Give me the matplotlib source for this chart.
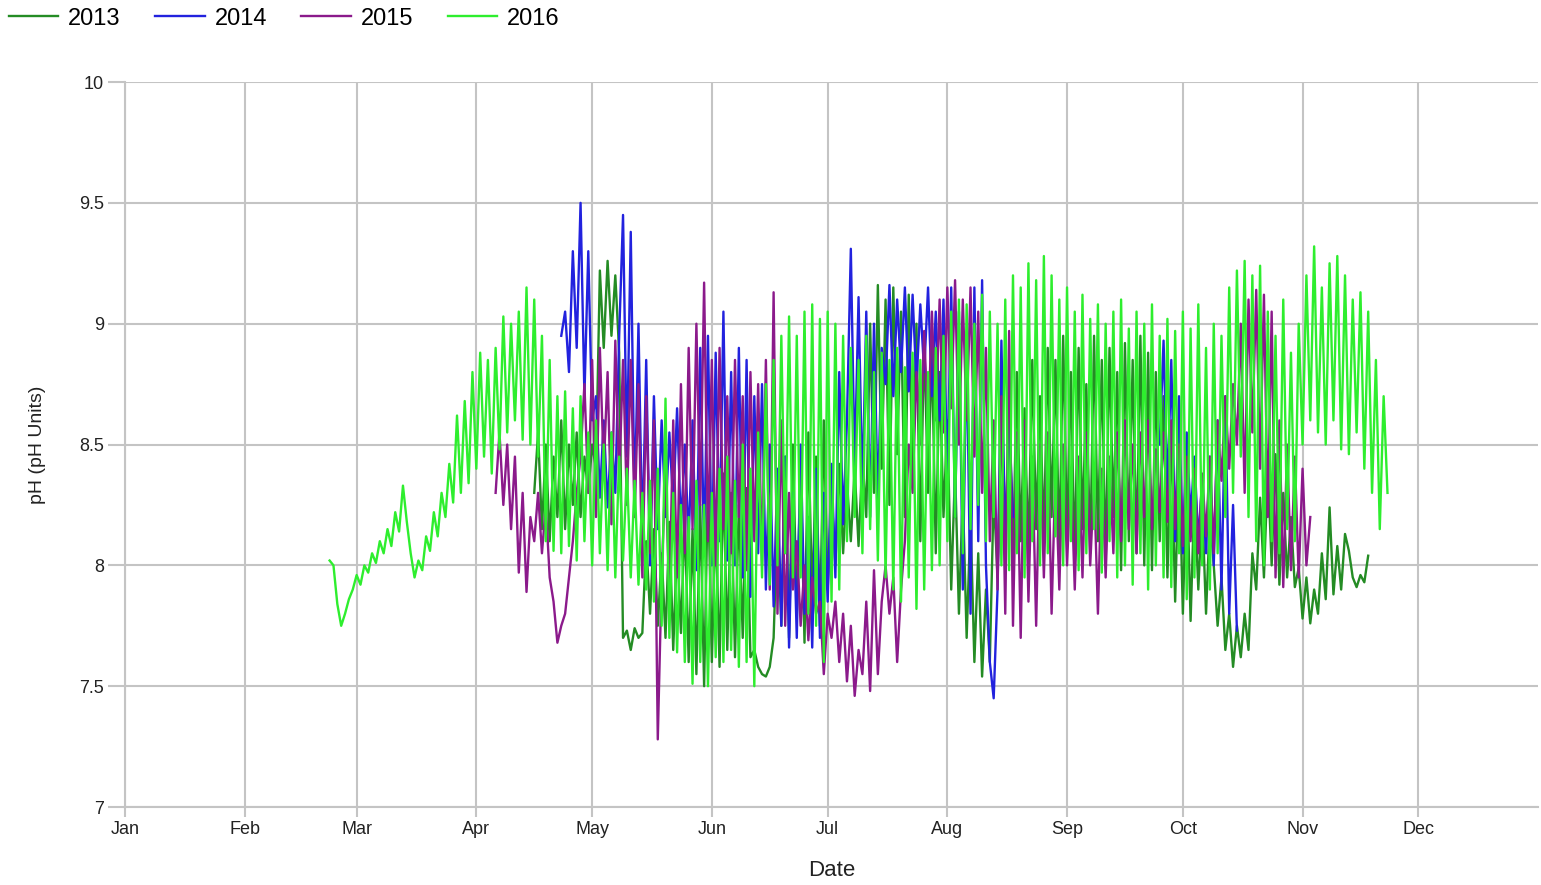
import numpy as np
import matplotlib
matplotlib.use('Agg')
import matplotlib.pyplot as plt

plt.rcParams['font.family'] = ['Liberation Sans', 'DejaVu Sans']

# daily pH readings, one value per day (alternating day/night swing),
# x is day-of-year counted from Jan 1 on a leap-year calendar
start_2013 = 106
ph_2013 = [
    8.30, 8.55, 8.15, 8.50, 8.10, 8.45, 8.20, 8.60, 8.15, 8.50, 8.25, 8.55, 8.20, 8.45, 8.30, 8.50, 8.40,
    9.22, 8.90, 9.26, 8.95, 9.20, 8.88,
    7.70, 7.73, 7.65, 7.74, 7.70, 7.72,
    8.10, 7.80, 8.15, 7.75, 8.05, 7.70, 8.18, 7.65, 8.10, 7.72, 8.20, 7.60, 8.15, 7.55,
    8.25, 7.50, 8.35, 7.60, 8.20, 7.58, 8.38, 7.65, 8.30, 7.62, 8.25, 7.70, 8.32, 7.62,
    7.65, 7.58, 7.55, 7.54, 7.58, 7.70,
    8.20, 7.75, 8.45, 7.70, 8.50, 7.80, 8.40, 7.68, 8.55, 7.85, 8.45, 7.75, 8.60, 7.90,
    8.30, 8.00, 8.42, 8.05, 8.35, 8.10, 8.40, 8.08, 8.45, 8.20, 9.00, 8.30, 9.16,
    8.40, 9.10, 8.25, 9.15, 8.46, 9.05, 8.20, 9.12, 8.35, 9.00, 8.10, 8.95, 8.30, 8.90, 8.05, 8.80, 8.20,
    8.60, 7.90, 8.40, 7.80, 8.30, 7.70, 8.20, 7.60, 8.05, 7.54, 7.90, 7.60,
    8.30, 7.95, 8.60, 8.05, 8.70, 8.00, 8.80, 8.10, 8.65, 8.05, 8.85, 8.15, 8.70, 8.10, 8.90, 8.20,
    8.85, 8.05, 8.95, 8.10, 8.80, 8.00, 8.90, 8.15, 8.75, 8.05, 8.95, 8.10, 8.85, 8.00,
    8.90, 8.20, 8.80, 7.98, 8.92, 8.10, 8.85, 8.05, 8.95, 8.00, 8.88, 7.98, 8.80,
    8.10, 8.70, 7.95, 8.55, 7.85, 8.45, 7.80, 8.40, 7.77, 8.30, 7.90, 8.25, 7.80, 8.20,
    8.00, 7.75, 7.95, 7.65, 7.80, 7.58, 7.75, 7.62, 7.80, 7.65, 8.05, 7.90, 8.28,
    7.95, 8.40, 8.00, 8.46, 7.92, 8.30, 7.95, 8.20, 7.91,
    7.99, 7.78, 7.95, 7.76, 7.90, 7.80, 8.05, 7.86, 8.24, 7.88, 8.08, 7.90, 8.13, 8.06,
    7.95, 7.91, 7.96, 7.93, 8.04,
]

# 2014 logger has a gap from late August to late September
start_2014a = 113
ph_2014a = [
    8.95, 9.05, 8.80, 9.30, 8.90, 9.50,
    8.70, 9.30, 8.60, 8.70, 8.28, 8.60, 8.24, 8.55,
    8.30, 8.95, 9.45, 8.45, 9.38, 8.25, 9.00,
    8.10, 8.85, 8.00, 8.70, 8.15, 8.60, 8.20,
    8.55, 8.25, 8.65, 8.15, 8.50, 8.10, 8.60, 7.98,
    8.90, 8.05, 8.95, 8.00, 8.88, 8.10, 9.05, 8.02,
    8.80, 8.00, 8.90, 7.95, 8.85, 7.87, 8.70, 8.05, 8.75, 7.90,
    8.50, 7.83, 8.40, 7.75, 8.45, 7.66, 8.30, 7.70, 8.50, 7.80, 8.20, 7.66, 8.40, 7.70,
    8.30, 7.85, 8.42, 7.95, 8.80, 8.17, 8.60, 9.31,
    8.40, 9.11, 8.30, 9.05, 8.20, 9.00, 8.25, 8.90,
    8.75, 9.16, 8.70, 9.10, 8.80, 9.15, 8.72, 9.12, 8.75, 9.08, 8.80, 9.15, 8.70, 9.05, 8.60,
    9.10, 8.35, 9.15, 8.20, 9.05, 7.90, 8.95, 7.80, 9.15, 8.10, 9.18, 8.00, 7.60, 7.45, 7.90,
    8.93, 8.10, 8.60, 8.20,
]
start_2014b = 268
ph_2014b = [
    8.50, 8.93, 8.30, 8.85, 8.10, 8.70, 8.05, 8.55, 8.20, 8.45, 8.10,
    8.35, 8.05, 8.45, 8.00, 8.60, 7.90, 8.70, 7.80, 8.25, 7.73,
]

start_2015 = 96
ph_2015 = [
    8.30, 8.55, 8.25, 8.50, 8.15, 8.45, 7.97, 8.30, 7.89, 8.20, 8.10,
    8.30, 8.05, 8.25, 7.95, 7.85, 7.68, 7.75, 7.80, 7.95, 8.10, 8.30, 8.45,
    8.75, 8.30, 8.85, 8.20, 8.90, 8.40, 8.80, 8.17, 8.93, 8.35, 8.85, 8.25,
    8.85, 8.20, 8.75, 7.95, 8.70, 8.05, 8.60, 7.28,
    7.95, 8.40, 7.85, 8.60, 7.95, 8.75, 8.05, 8.90, 8.15, 9.00, 8.25, 9.17,
    8.10, 8.85, 8.00, 8.90, 8.15, 8.70, 8.05, 8.85, 8.20, 8.70, 7.98, 8.80, 8.10, 8.75,
    8.00, 8.85, 7.90, 9.13, 7.80, 8.60, 7.75, 8.30,
    7.90, 8.10, 7.75, 8.00, 7.69, 7.95, 7.80, 7.85, 7.55, 7.80,
    7.70, 7.85, 7.60, 7.80, 7.52, 7.75, 7.46, 7.65, 7.55, 7.85, 7.48, 7.98, 7.55,
    7.85, 8.00, 7.80, 7.95, 7.60, 7.90, 8.10, 8.50, 8.30, 8.80,
    8.50, 8.97, 8.55, 9.05, 8.60, 9.10, 8.55, 9.15, 8.65, 9.18, 8.50, 9.10, 8.60, 9.15, 8.45,
    9.05, 8.30, 8.90, 8.10,
    8.60, 7.90, 8.70, 7.80, 8.97, 7.75, 8.55, 7.70, 8.60, 7.85, 8.45, 7.75, 8.50, 7.95,
    8.55, 7.80, 8.40, 7.90,
    8.50, 8.00, 8.40, 7.90, 8.45, 7.95, 8.55, 8.00, 8.35, 7.80, 8.40, 7.95, 8.45, 8.05, 8.55,
    8.10, 8.60, 8.15, 8.50, 8.05, 8.55, 8.20, 8.60, 8.15, 8.48, 8.22, 8.55, 8.18, 8.60, 8.15, 8.50,
    8.08, 8.45, 8.10, 8.40, 8.05, 8.38, 8.12, 8.45, 8.05, 8.60, 8.35, 8.70,
    8.40, 8.75, 8.50, 9.00, 8.30, 9.10, 8.55, 9.14, 8.40, 9.12, 8.20, 9.05, 7.95, 8.60, 7.91,
    8.50, 7.98, 8.45, 7.95, 8.40, 8.00, 8.20,
]

start_2016 = 53
ph_2016 = [
    8.02, 8.00, 7.84, 7.75, 7.80, 7.86, 7.90,
    7.96, 7.92, 8.00, 7.97, 8.05, 8.01, 8.10, 8.05, 8.15, 8.08, 8.22, 8.14,
    8.33, 8.18, 8.05, 7.95,
    8.02, 7.98, 8.12, 8.06, 8.22, 8.12, 8.30, 8.20, 8.42, 8.26, 8.62, 8.30, 8.68,
    8.34, 8.80, 8.40, 8.88, 8.45, 8.85, 8.38, 8.90,
    8.48, 9.03, 8.55, 9.00, 8.60, 9.05, 8.52, 9.15,
    8.50, 9.10, 8.45, 8.95,
    8.10, 8.85, 8.06, 8.70,
    8.05, 8.72, 8.08, 8.65, 8.02, 8.70, 8.10, 8.55,
    8.00, 8.60, 8.05, 8.50, 7.98, 8.55, 7.95, 8.45, 8.02, 8.40,
    7.95, 8.35, 7.92, 8.30, 7.90, 8.35, 7.85, 8.40, 7.75, 8.69,
    7.70, 8.30, 7.64, 8.25, 7.60, 8.20, 7.51, 8.35, 7.60, 8.25,
    7.50, 8.30, 7.62, 8.40, 7.60, 8.45, 7.65, 8.35, 7.58, 8.50, 7.60, 8.40, 7.50, 8.55,
    7.95, 8.75, 7.92, 8.85, 8.00, 8.95, 8.05, 9.03, 7.95, 8.95,
    7.95, 9.05, 7.80, 9.08, 7.75, 9.02,
    7.60, 9.05, 7.85, 9.00, 7.90, 8.95,
    8.10, 8.90, 8.20, 8.85, 8.05, 8.95, 8.15, 8.80, 8.02,
    8.88, 7.95, 8.85, 7.90, 8.90, 7.85, 8.82, 7.95, 8.88, 7.82, 8.85, 7.90, 8.80, 7.98, 8.90,
    8.00, 8.95,
    8.10, 9.05, 8.20, 9.10, 8.05, 9.08, 8.15, 9.00, 8.25, 9.12, 8.10, 9.05, 8.20, 9.00,
    8.00, 9.10, 7.98, 9.20, 8.05, 9.15, 7.95, 9.25, 8.10, 9.18, 8.00, 9.28, 8.05, 9.20, 8.12, 9.10,
    8.00, 9.15, 8.10, 9.05, 7.98, 9.12, 8.05, 9.02, 8.15, 9.08, 7.97, 9.00, 8.10,
    9.05, 7.95, 9.10, 8.00, 8.98, 7.92, 9.05, 8.05, 9.00, 7.90, 9.08, 8.00, 8.95, 7.95, 9.02,
    7.91, 8.97, 8.05,
    9.05, 7.86, 8.98, 7.95, 9.08, 8.00, 8.90, 7.90, 9.00, 8.05, 8.95, 8.20,
    9.15, 8.30, 9.22, 8.45, 9.26, 8.20, 9.20, 8.10, 9.24, 8.00,
    9.05, 8.10, 8.95, 8.05, 9.10, 8.15, 8.88, 8.10, 9.00,
    8.50, 9.20, 8.60, 9.32, 8.55, 9.15, 8.50, 9.25, 8.60, 9.28, 8.48, 9.20, 8.46, 9.10, 8.55, 9.13,
    8.40, 9.05, 8.30, 8.85, 8.15, 8.70, 8.30,
]

month_days = [0, 31, 60, 91, 121, 152, 182, 213, 244, 274, 305, 335]
month_labels = ['Jan', 'Feb', 'Mar', 'Apr', 'May', 'Jun',
                'Jul', 'Aug', 'Sep', 'Oct', 'Nov', 'Dec']
ph_ticks = [7, 7.5, 8, 8.5, 9, 9.5, 10]
ph_tick_labels = ['7', '7.5', '8', '8.5', '9', '9.5', '10']

colors = {'2013': '#248c24', '2014': '#2222de', '2015': '#8b1a8b', '2016': '#2eee2e'}
grid_col = '#c4c4c4'
text_col = '#222222'


def days(start, values):
    return start + np.arange(len(values))


x_2014 = np.concatenate([days(start_2014a, ph_2014a), [np.nan], days(start_2014b, ph_2014b)])
y_2014 = np.concatenate([ph_2014a, [np.nan], ph_2014b])

fig = plt.figure(figsize=(15.41, 8.85), dpi=100)
ax = fig.add_axes([0.0811, 0.0881, 0.917, 0.8192])

lw = 1.7
ax.plot(days(start_2013, ph_2013), ph_2013, color=colors['2013'], lw=lw, label='2013')
ax.plot(x_2014, y_2014, color=colors['2014'], lw=lw, label='2014')
ax.plot(days(start_2015, ph_2015), ph_2015, color=colors['2015'], lw=lw, label='2015')
ax.plot(days(start_2016, ph_2016), ph_2016, color=colors['2016'], lw=lw, label='2016')

ax.set_xlim(0, 366)
ax.set_ylim(7, 10)
ax.set_xticks(month_days)
ax.set_xticklabels(month_labels)
ax.set_yticks(ph_ticks)
ax.set_yticklabels(ph_tick_labels)

ax.grid(True, color=grid_col, lw=1.5)
ax.set_axisbelow(True)
for side in ['top', 'right']:
    ax.spines[side].set_visible(False)
for side in ['left', 'bottom']:
    ax.spines[side].set_color(grid_col)
    ax.spines[side].set_linewidth(1.5)

ax.tick_params(axis='x', length=7, width=1.5, color=grid_col, labelsize=13,
               labelcolor=text_col, pad=3)
ax.tick_params(axis='y', length=12, width=1.5, color=grid_col, labelsize=13,
               labelcolor=text_col, pad=3)

ax.set_xlabel('Date', fontsize=16, color=text_col, labelpad=16)
ax.set_ylabel('pH (pH Units)', fontsize=14, color=text_col, labelpad=24)

fig.legend(loc='upper left', bbox_to_anchor=(-0.005, 1.01), ncol=4, frameon=False,
           fontsize=17, handlelength=2.1, handletextpad=0.42, columnspacing=1.45,
           borderaxespad=0.3)

fig.savefig('out.png', dpi=100)
